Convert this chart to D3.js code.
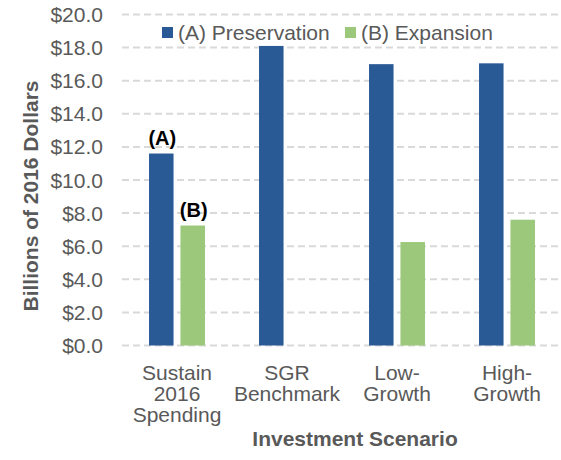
<!DOCTYPE html>
<html>
<head>
<meta charset="utf-8">
<script src="https://cdn.jsdelivr.net/npm/d3@7"></script>
<style>
  body { margin: 0; background: #fff; }
  svg { display: block; font-family: "Liberation Sans", Arial, sans-serif; }
</style>
</head>
<body>
<div id="chart"></div>
<script>
// chart data
const categories = [["Sustain", "2016", "Spending"], ["SGR", "Benchmark"], ["Low-", "Growth"], ["High-", "Growth"]];
const seriesNames = ["(A) Preservation", "(B) Expansion"];
const preservation = [11.6, 18.1, 17.0, 17.05];
const expansion = [7.25, null, 6.25, 7.6];
const yTicks = [0, 2, 4, 6, 8, 10, 12, 14, 16, 18, 20];
const colors = ["#2A5A95", "#9BC87A"];

const width = 561, height = 460;
const margin = { top: 14.5, right: -1, bottom: 114.5, left: 122 };

const svg = d3.select("#chart").append("svg")
  .attr("width", width)
  .attr("height", height);

const catKeys = categories.map(c => c.join(" "));

const x = d3.scaleBand()
  .domain(catKeys)
  .range([margin.left, width - margin.right])
  .padding(0);

const x1 = d3.scaleBand()
  .domain([0, 1])
  .range([0, x.bandwidth()])
  .paddingInner(0.22)
  .paddingOuter(0.86);

const y = d3.scaleLinear()
  .domain([0, 20])
  .range([height - margin.bottom, margin.top]);

// gridlines
svg.append("g")
  .selectAll("line")
  .data(yTicks)
  .enter()
  .append("line")
  .attr("x1", margin.left)
  .attr("x2", width)
  .attr("y1", d => y(d))
  .attr("y2", d => y(d))
  .attr("stroke", "#d9d9d9")
  .attr("stroke-width", 2)
  .attr("stroke-dasharray", "7,4");

// y tick labels
svg.append("g")
  .selectAll("text")
  .data(yTicks)
  .enter()
  .append("text")
  .attr("x", 103)
  .attr("y", d => y(d))
  .attr("dy", "0.36em")
  .attr("text-anchor", "end")
  .attr("fill", "#595959")
  .style("font-size", "21px")
  .text(d => "$" + d3.format(".1f")(d));

// bars
const rows = catKeys.map((k, i) => ({ key: k, values: [preservation[i], expansion[i]] }));

const groups = svg.append("g")
  .selectAll("g")
  .data(rows)
  .enter()
  .append("g")
  .attr("transform", d => `translate(${x(d.key)},0)`);

groups.selectAll("rect")
  .data(d => d.values.map((v, s) => ({ s, v })).filter(e => e.v != null))
  .enter()
  .append("rect")
  .attr("x", d => x1(d.s))
  .attr("width", x1.bandwidth())
  .attr("y", d => y(d.v))
  .attr("height", d => y(0) - y(d.v))
  .attr("fill", d => colors[d.s]);

// (A) / (B) annotations on first group
const first = rows[0];
svg.append("g")
  .selectAll("text")
  .data(first.values.map((v, s) => ({ s, v })))
  .enter()
  .append("text")
  .attr("x", d => x(first.key) + x1(d.s) + x1.bandwidth() / 2 + 1)
  .attr("y", d => y(d.v) - 9)
  .attr("text-anchor", "middle")
  .attr("fill", "#000")
  .style("font-size", "20px")
  .style("font-weight", "bold")
  .text(d => d.s === 0 ? "(A)" : "(B)");

// category labels
const catLabels = svg.append("g")
  .selectAll("text")
  .data(categories)
  .enter()
  .append("text")
  .attr("x", (d, i) => x(catKeys[i]) + x.bandwidth() / 2)
  .attr("y", 380)
  .attr("text-anchor", "middle")
  .attr("fill", "#595959")
  .style("font-size", "21px");

catLabels.selectAll("tspan")
  .data((d, i) => d.map(t => ({ t, i })))
  .enter()
  .append("tspan")
  .attr("x", d => x(catKeys[d.i]) + x.bandwidth() / 2)
  .attr("dy", (d, j) => j === 0 ? 0 : 20.8)
  .text(d => d.t);

// axis titles
svg.append("text")
  .attr("x", 355)
  .attr("y", 446)
  .attr("text-anchor", "middle")
  .attr("fill", "#595959")
  .style("font-size", "21px")
  .style("font-weight", "bold")
  .text("Investment Scenario");

svg.append("text")
  .attr("transform", "translate(38,196) rotate(-90)")
  .attr("text-anchor", "middle")
  .attr("fill", "#595959")
  .style("font-size", "21px")
  .style("font-weight", "bold")
  .text("Billions of 2016 Dollars");

// legend
const legendX = [162, 345];
const legend = svg.append("g")
  .selectAll("g")
  .data(seriesNames)
  .enter()
  .append("g")
  .attr("transform", (d, i) => `translate(${legendX[i]},27)`);

legend.append("rect")
  .attr("width", 11)
  .attr("height", 11)
  .attr("fill", (d, i) => colors[i]);

legend.append("text")
  .attr("x", 16)
  .attr("y", 5.5)
  .attr("dy", "0.36em")
  .attr("fill", "#595959")
  .style("font-size", "21px")
  .text(d => d);
</script>
</body>
</html>
